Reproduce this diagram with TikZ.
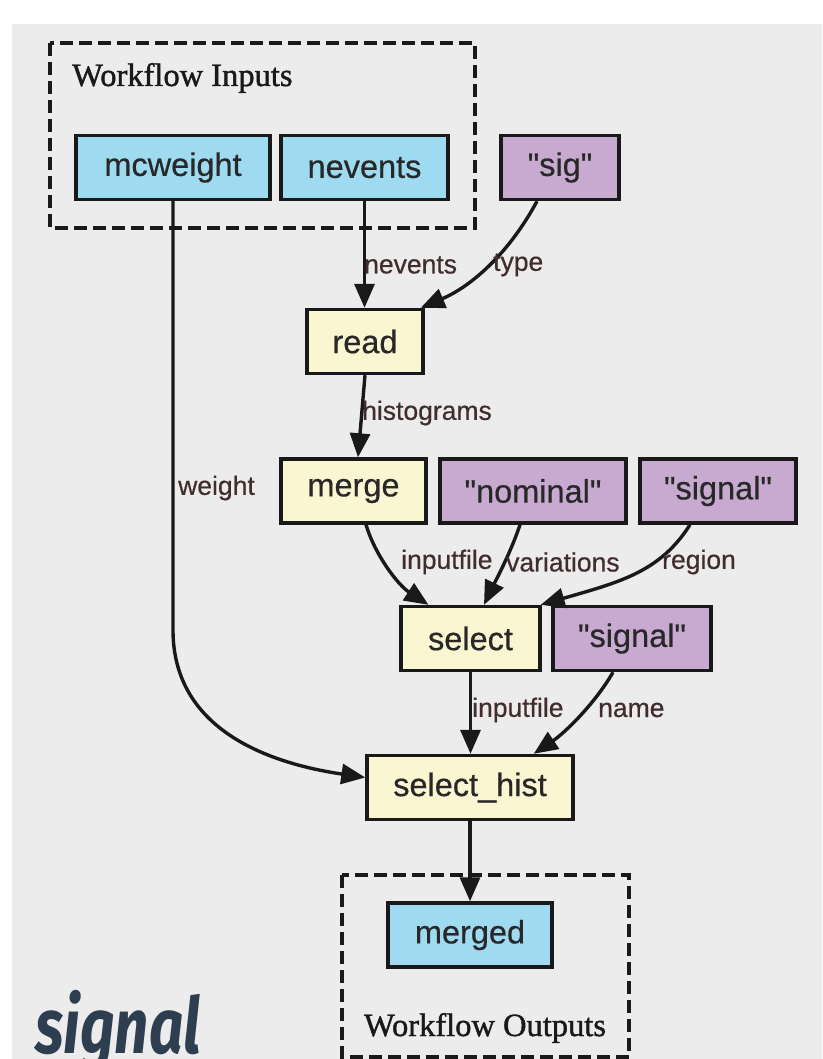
\documentclass[tikz,border=0pt]{standalone}
\usepackage{fontspec}
\usetikzlibrary{arrows.meta}
\newfontfamily\arialf[FakeBold=0.5]{Liberation Sans}
\newfontfamily\timesf[FakeBold=1.2]{Liberation Serif}
\newfontfamily\firaf{Fira Sans}
\definecolor{bgray}{RGB}{236,236,236}
\definecolor{inblue}{RGB}{158,218,240}
\definecolor{opyellow}{RGB}{250,246,210}
\definecolor{cpurple}{RGB}{200,170,208}
\definecolor{lineg}{RGB}{25,25,25}
\definecolor{txtg}{RGB}{40,40,40}
\definecolor{labg}{RGB}{65,45,45}
\definecolor{slate}{RGB}{44,62,80}
\tikzset{
  box/.style={draw=lineg, line width=3.4pt, inner sep=0pt, minimum height=64pt,
    text=txtg, font=\arialf\fontsize{32.5}{38}\selectfont},
  inbox/.style={box, fill=inblue},
  opbox/.style={box, fill=opyellow},
  cbox/.style={box, fill=cpurple},
  edge/.style={draw=lineg, line width=3.4pt,
    -{Triangle[length=24pt,width=20pt]}},
  elabel/.style={anchor=west, inner sep=0pt, text=labg,
    font=\arialf\fontsize{26.5}{30}\selectfont},
  grp/.style={draw=lineg, line width=3.6pt, dash pattern=on 13pt off 6pt},
  grplabel/.style={anchor=base west, inner sep=0pt, text=black!90,
    font=\timesf\fontsize{32.5}{38}\selectfont}
}
\begin{document}
\begin{tikzpicture}[x=1pt,y=-1pt]
\useasboundingbox (0,0) rectangle (822,1059);
\fill[white] (0,0) rectangle (822,1059);
\fill[bgray] (12,24) rectangle (822,1059);
% groups
\draw[grp] (50,43) rectangle (475,228);
\node[grplabel] (inlab) at (72,86) {Workflow Inputs};
\draw[grp] (342,875) rectangle (629,1057);
\node[grplabel, anchor=base] (outlab) at (485,1036) {Workflow Outputs};
% nodes
\node[inbox, minimum width=194pt] (mcweight) at (173,167.5) {mcweight};
\node[inbox, minimum width=167pt] (nevents) at (364.5,167.5) {nevents};
\node[cbox, minimum width=118pt] (sig) at (560,167.5) {"sig"};
\node[opbox, minimum width=116pt] (read) at (365,341.5) {read};
\node[opbox, minimum width=145pt] (merge) at (353.5,491) {merge};
\node[cbox, minimum width=186pt] (nominal) at (533,491) {"nominal"};
\node[cbox, minimum width=156pt] (signalA) at (718,491) {"signal"};
\node[opbox, minimum width=139pt] (select) at (470.5,638.5) {select};
\node[cbox, minimum width=158pt] (signalB) at (632,638.5) {"signal"};
\node[opbox, minimum width=206pt] (selhist) at (470,787.5) {select\_hist};
\node[inbox, minimum width=164pt] (merged) at (470,935) {merged};
% edges
\draw[edge] (mcweight.south) -- (mcweight.south |- 0,630)
  .. controls (173,725) and (260,762) .. ([yshift=10pt]selhist.west);
\draw[edge] (nevents.south) -- (nevents.south |- read.north);
\draw[edge] ([xshift=-23pt]sig.south) .. controls (508,255) and (470,287) .. ([xshift=-4pt]read.north east);
\draw[edge] (read.south) -- ([xshift=4.5pt]merge.north);
\draw[edge] ([xshift=12.5pt]merge.south) .. controls (375,555) and (398,585) .. ([xshift=-42pt]select.north);
\draw[edge] ([xshift=-13pt]nominal.south) .. controls (511,552) and (495,582) .. ([xshift=13.5pt]select.north);
\draw[edge] ([xshift=-28pt]signalA.south) .. controls (660,572) and (620,582) .. ([xshift=-1pt]select.north east);
\draw[edge] (select.south) -- (select.south |- selhist.north);
\draw[edge] ([xshift=-19pt]signalB.south) .. controls (596,702) and (566,732) .. ([xshift=-41pt]selhist.north east);
\draw[edge] (selhist.south) -- (merged.north);
% edge labels
\node[elabel] (l1) at (364,265) {nevents};
\node[elabel] (l2) at (493,265) {type};
\node[elabel] (l3) at (362,413) {histograms};
\node[elabel] (l4) at (178,488) {weight};
\node[elabel] (l5) at (401,562) {inputfile};
\node[elabel] (l6) at (506,562) {variations};
\node[elabel] (l7) at (662,562) {region};
\node[elabel] (l8) at (472,710) {inputfile};
\node[elabel] (l9) at (598,710) {name};
% big title
\node[anchor=base west, inner sep=0pt, text=slate] (title) at (35,1053)
  {\scalebox{0.77}[1]{\firaf\bfseries\itshape\fontsize{78}{80}\selectfont signal}};
\end{tikzpicture}
\end{document}
